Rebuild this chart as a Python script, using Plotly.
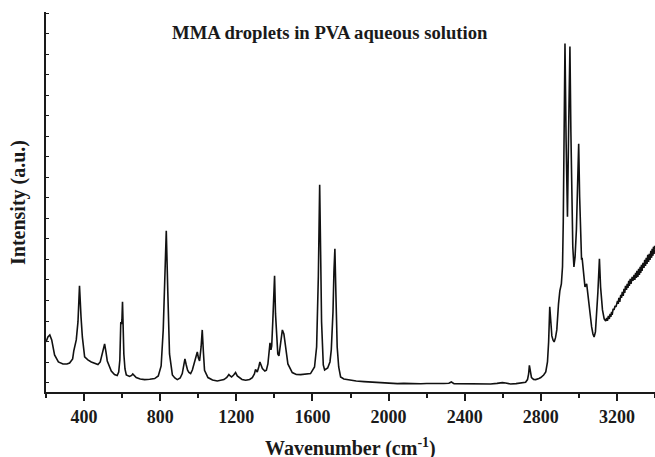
import plotly.graph_objects as go

# Raman spectrum (wavenumber in cm-1, intensity in a.u.)
wavenumber = [
    200, 210, 220, 230, 245, 265, 289, 310, 324, 340, 346, 352, 359, 368, 376, 384, 391, 403,
    420, 438, 455, 473, 485, 494, 501, 508, 515, 522, 543, 560, 574, 582, 588, 593, 597, 599,
    602, 605, 609, 615, 622, 639, 650, 656, 664, 674, 695, 718, 745, 771, 790, 805, 816, 825,
    832, 840, 849, 864, 877, 890, 905, 916, 924, 930, 937, 944, 951, 960, 969, 981, 990, 995,
    1001, 1007, 1015, 1021, 1027, 1033, 1051, 1075, 1100, 1135, 1150, 1161, 1168, 1175, 1186,
    1196, 1205, 1214, 1230, 1249, 1270, 1284, 1295, 1301, 1306, 1310, 1318, 1324, 1330, 1337,
    1350, 1358, 1366, 1371, 1377, 1382, 1386, 1392, 1397, 1401, 1406, 1412, 1418, 1424, 1433,
    1442, 1450, 1458, 1471, 1494, 1515, 1538, 1565, 1590, 1611, 1622, 1631, 1638, 1643, 1648,
    1657, 1664, 1680, 1692, 1699, 1708, 1713, 1718, 1723, 1730, 1738, 1748, 1765, 1783, 1801,
    1830, 1871, 1900, 1930, 1958, 1990, 2020, 2046, 2080, 2110, 2133, 2170, 2200, 2221, 2260,
    2290, 2317, 2330, 2344, 2380, 2410, 2431, 2470, 2500, 2536, 2570, 2598, 2615, 2641, 2670,
    2703, 2720, 2730, 2736, 2740, 2745, 2751, 2762, 2773, 2790, 2800, 2815, 2826, 2835, 2841,
    2847, 2853, 2858, 2864, 2870, 2877, 2884, 2893, 2900, 2908, 2914, 2918, 2922, 2927, 2933,
    2940, 2946, 2953, 2958, 2962, 2968, 2974, 2980, 2987, 2993, 2999, 3004, 3010, 3014, 3017,
    3022, 3032, 3041, 3047, 3053, 3060, 3067, 3074, 3080, 3087, 3094, 3100, 3108, 3114, 3124,
    3133, 3141, 3146, 3150, 3155, 3160, 3164, 3168, 3172, 3175, 3180, 3185, 3190, 3195, 3199,
    3203, 3207, 3210, 3215, 3220, 3224, 3228, 3233, 3237, 3241, 3245, 3250, 3254, 3258, 3262,
    3265, 3270, 3274, 3280, 3284, 3290, 3294, 3298, 3302, 3305, 3310, 3314, 3318, 3322, 3325,
    3329, 3332, 3337, 3342, 3346, 3350, 3354, 3358, 3362, 3366, 3370, 3374, 3378, 3382, 3385,
    3389, 3392, 3395, 3398, 3400,
]

intensity = [
    50, 55, 57, 52, 37, 30, 28, 28, 29, 33, 41, 45, 52, 70, 106, 75, 55, 35,
    32, 30, 29, 27.5, 30, 36, 43, 48, 40, 31, 21, 17.5, 16.5, 20, 32, 70, 68, 72,
    90, 60, 38, 23, 17, 15.5, 16.5, 18, 16, 14.4, 13, 12.4, 12.8, 13.4, 16, 26, 62, 120,
    161, 100, 38, 17, 14, 12.4, 14, 18.4, 26, 33, 27, 21.7, 19.5, 18.4, 22, 30, 36, 40,
    34, 31, 45, 62, 40, 21.7, 14.4, 12, 11, 12.4, 14.5, 17.4, 16, 15, 17,
    19.4, 16, 14.4, 12.5, 11.7, 12.5, 14.4, 18, 22.4, 21, 20, 25, 30, 27, 23.4,
    21, 21.7, 28, 36, 49, 42, 46, 72, 100, 116, 78, 55, 38, 36, 50,
    62, 58, 45, 28, 19.4, 17.5, 17.4, 18, 18.4, 25, 45, 115, 207, 140, 70,
    27, 22, 24, 30, 42, 80, 120, 143, 100, 45, 25, 15, 13, 12.4, 11.7,
    11, 10.4, 10, 9.8, 9.4, 9.2, 9.0, 8.4, 8.6, 8.3, 8.4, 8.2, 8.5, 8.4, 8.1,
    8.5, 8.7, 10, 8.4, 8.2, 8.1, 8, 7.8, 8.1, 8, 8.6, 9.4, 9.0, 8, 8.4,
    9, 9.8, 12.4, 18, 26.7, 18, 14.4, 12.6, 12.4, 13.5, 14.4, 17, 20, 30, 50,
    85, 65, 56, 52, 50, 54, 62, 88, 101, 108, 125, 170, 250, 348, 250,
    175, 260, 345, 260, 200, 145, 125, 135, 162, 200, 248, 195, 150, 132, 134,
    124, 105, 108, 98, 85, 74, 65, 58, 55, 60, 78, 100, 133, 105, 82,
    73, 71, 74, 71, 76, 73, 78, 75, 80, 77, 83, 82, 86, 85, 88,
    91, 88, 94, 90, 97, 94, 100, 96, 103, 99, 106, 102, 108, 104, 111,
    106, 113, 108, 115, 111, 117, 112, 119, 114, 121, 115, 123, 117, 125, 119,
    127, 121, 129, 124, 132, 126, 134, 128, 137, 130, 138, 132, 141, 134, 143,
    136, 145, 138, 146, 142,
]

x_tick_values = [400, 800, 1200, 1600, 2000, 2400, 2800, 3200]
x_tick_labels = ["400", "800", "1200", "1600", "2000", "2400", "2800", "3200"]
x_minor_values = [200, 600, 1000, 1400, 1800, 2200, 2600, 3000, 3400]
y_tick_values = [9.4 + 20.5 * k for k in range(19)]

title_text = "MMA droplets in PVA aqueous solution"
x_title = "Wavenumber (cm<sup>-1</sup>)"
y_title = "Intensity (a.u.)"

SERIF = "Liberation Serif, Times New Roman, serif"

fig = go.Figure()
fig.add_trace(go.Scatter(
    x=wavenumber, y=intensity, mode="lines",
    line=dict(color="#111111", width=1.6),
    hoverinfo="skip", showlegend=False,
))

fig.update_layout(
    width=655, height=457,
    margin=dict(l=46, r=0, t=12, b=65),
    paper_bgcolor="white", plot_bgcolor="white",
    font=dict(family=SERIF, color="#1a1a1a"),
    xaxis=dict(
        range=[200, 3400], showgrid=False, zeroline=False,
        showline=True, linecolor="#1a1a1a", linewidth=2,
        tickmode="array", tickvals=x_tick_values,
        ticktext=["<b>" + t + "</b>" for t in x_tick_labels],
        ticks="outside", ticklen=7, tickwidth=1.5, tickcolor="#1a1a1a",
        tickfont=dict(size=18, family=SERIF, color="#1a1a1a"),
        minor=dict(tickmode="array", tickvals=x_minor_values,
                   ticks="outside", ticklen=4, tickwidth=1.5, tickcolor="#1a1a1a"),
    ),
    yaxis=dict(
        range=[0, 379.5], showgrid=False, zeroline=False,
        showline=True, linecolor="#1a1a1a", linewidth=2,
        tickmode="array", tickvals=y_tick_values, showticklabels=False,
        ticks="inside", ticklen=3, tickwidth=1.2, tickcolor="#1a1a1a",
    ),
    annotations=[
        dict(text="<b>" + title_text + "</b>", xref="paper", yref="paper",
             x=0.466, y=0.947, xanchor="center", yanchor="middle", showarrow=False,
             font=dict(size=18.7, family=SERIF, color="#1a1a1a")),
        dict(text="<b>" + x_title + "</b>", xref="paper", yref="paper",
             x=0.5, y=-0.145, xanchor="center", yanchor="middle", showarrow=False,
             font=dict(size=20, family=SERIF, color="#1a1a1a")),
        dict(text="<b>" + y_title + "</b>", xref="paper", yref="paper",
             x=-0.046, y=0.5, xanchor="center", yanchor="middle", showarrow=False,
             textangle=-90, font=dict(size=20, family=SERIF, color="#1a1a1a")),
    ],
)

fig.write_html("out.html", config={"displayModeBar": False},
               post_script=["document.body.style.margin='0px';"])
